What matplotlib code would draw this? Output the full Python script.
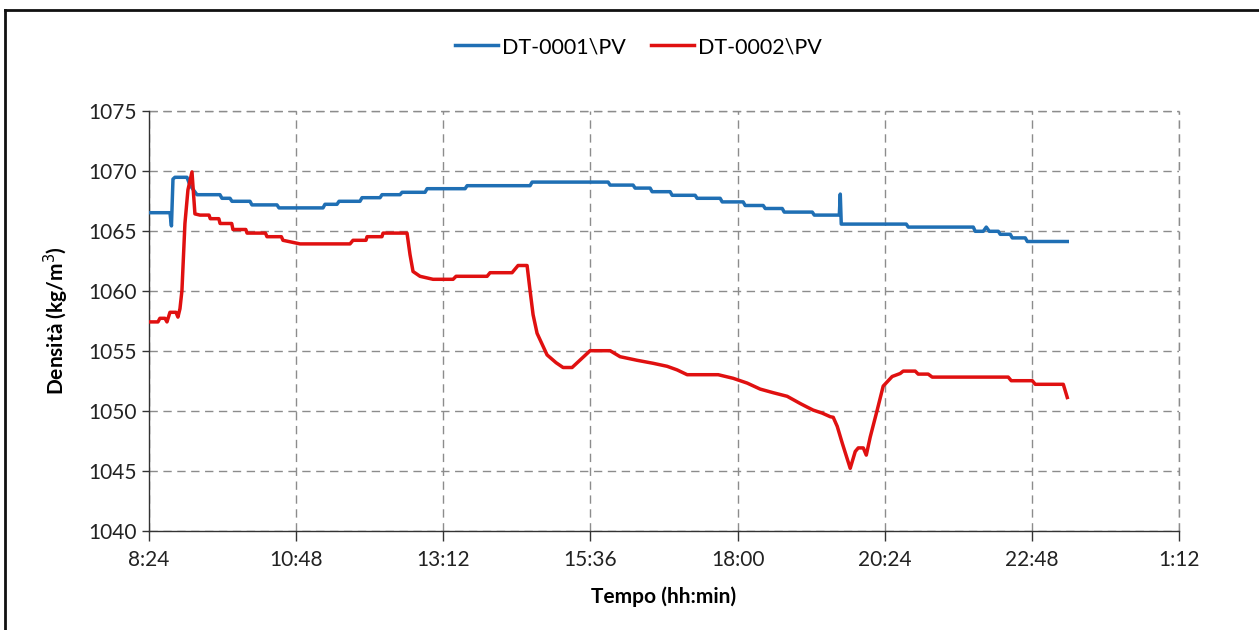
import matplotlib.pyplot as plt
from matplotlib.lines import Line2D
from matplotlib.ticker import FixedLocator, FuncFormatter

# time in decimal hours (values > 24 belong to the next day)
dt1_hours = [8.400, 8.743, 8.767, 8.792, 8.824, 9.020, 9.069, 9.183, 9.558, 9.591,
             9.722, 9.754, 10.048, 10.080, 10.488, 10.521, 11.239, 11.271, 11.467, 11.500,
             11.842, 11.875, 12.169, 12.201, 12.495, 12.528, 12.903, 12.936, 13.556, 13.589,
             14.616, 14.649, 15.889, 15.921, 16.296, 16.329, 16.574, 16.606, 16.900, 16.933,
             17.308, 17.340, 17.716, 17.749, 18.091, 18.124, 18.418, 18.451, 18.728, 18.761,
             19.218, 19.251, 19.659, 19.675, 19.691, 20.751, 20.784, 21.844, 21.876, 22.007,
             22.056, 22.105, 22.252, 22.284, 22.447, 22.480, 22.692, 22.725, 23.377]
dt1_density = [1066.5, 1066.5, 1065.4, 1069.3, 1069.45, 1069.45, 1068.8, 1068.0, 1068.0, 1067.7,
               1067.7, 1067.45, 1067.45, 1067.15, 1067.15, 1066.9, 1066.9, 1067.2, 1067.2, 1067.45,
               1067.45, 1067.75, 1067.75, 1068.0, 1068.0, 1068.2, 1068.2, 1068.5, 1068.5, 1068.75,
               1068.75, 1069.05, 1069.05, 1068.8, 1068.8, 1068.55, 1068.55, 1068.25, 1068.25, 1067.95,
               1067.95, 1067.7, 1067.7, 1067.4, 1067.4, 1067.1, 1067.1, 1066.85, 1066.85, 1066.55,
               1066.55, 1066.3, 1066.3, 1068.05, 1065.55, 1065.55, 1065.3, 1065.3, 1064.95, 1064.95,
               1065.3, 1064.95, 1064.95, 1064.7, 1064.7, 1064.4, 1064.4, 1064.1, 1064.1]

dt2_hours = [8.400, 8.547, 8.579, 8.661, 8.694, 8.743, 8.841, 8.873, 8.906, 8.938,
             8.987, 9.036, 9.102, 9.150, 9.232, 9.380, 9.400, 9.540, 9.560, 9.750,
             9.770, 9.980, 10.000, 10.300, 10.325, 10.560, 10.586, 10.864, 11.679, 11.728,
             11.940, 11.957, 12.200, 12.218, 12.609, 12.658, 12.707, 12.821,
             13.033, 13.360, 13.409, 13.915, 13.963, 14.322, 14.371, 14.420, 14.567, 14.616,
             14.665, 14.730, 14.893, 15.040, 15.154, 15.301, 15.595, 15.921, 16.084, 16.362,
             16.623, 16.851, 17.014, 17.178, 17.684, 17.928, 18.157, 18.369, 18.581, 18.809,
             19.021, 19.135, 19.233, 19.380, 19.511, 19.560, 19.625, 19.707, 19.837, 19.919,
             19.968, 20.050, 20.099, 20.163, 20.277, 20.375, 20.521, 20.652, 20.701, 20.897,
             20.946, 21.109, 21.174, 22.414, 22.463, 22.806, 22.855, 23.312, 23.377]
dt2_density = [1057.4, 1057.4, 1057.7, 1057.7, 1057.4, 1058.2, 1058.2, 1057.8, 1058.5, 1060.0,
               1065.6, 1068.4, 1069.9, 1066.4, 1066.3, 1066.3, 1066.0, 1066.0, 1065.6, 1065.6,
               1065.1, 1065.1, 1064.8, 1064.8, 1064.5, 1064.5, 1064.2, 1063.9, 1063.9, 1064.2,
               1064.2, 1064.5, 1064.5, 1064.8, 1064.8, 1063.0, 1061.6, 1061.2,
               1060.95, 1060.95, 1061.2, 1061.2, 1061.5, 1061.5, 1061.8, 1062.1, 1062.1, 1060.0,
               1058.0, 1056.45, 1054.65, 1054.0, 1053.6, 1053.6, 1055.0, 1055.0, 1054.5, 1054.2,
               1053.95, 1053.7, 1053.4, 1053.0, 1053.0, 1052.7, 1052.3, 1051.8, 1051.5, 1051.2,
               1050.6, 1050.3, 1050.05, 1049.8, 1049.5, 1049.45, 1048.7, 1047.3, 1045.2, 1046.6,
               1046.9, 1046.9, 1046.3, 1047.8, 1050.05, 1052.05, 1052.85, 1053.1, 1053.3, 1053.3,
               1053.05, 1053.05, 1052.8, 1052.8, 1052.5, 1052.5, 1052.2, 1052.2, 1051.1]

x_ticks = [8.4, 10.8, 13.2, 15.6, 18.0, 20.4, 22.8, 25.2]
y_ticks = [1040, 1045, 1050, 1055, 1060, 1065, 1070, 1075]

plt.rcParams['font.family'] = ['Lato', 'DejaVu Sans']


def hhmm(h, pos=None):
    m = int(round(h * 60)) % (24 * 60)
    return f"{m // 60}:{m % 60:02d}"


fig = plt.figure(figsize=(12.59, 6.30), dpi=100)
ax = fig.add_axes([0.1183, 0.1576, 0.8182, 0.6667])

ax.plot(dt1_hours, dt1_density, color='#1f6fb4', lw=2.5, label='DT-0001\\PV',
        solid_joinstyle='round', zorder=3)
ax.plot(dt2_hours, dt2_density, color='#e01010', lw=2.5, label='DT-0002\\PV',
        solid_joinstyle='round', zorder=4)

ax.set_xlim(8.4, 25.2)
ax.set_ylim(1040, 1075)
ax.xaxis.set_major_locator(FixedLocator(x_ticks))
ax.xaxis.set_major_formatter(FuncFormatter(hhmm))
ax.yaxis.set_major_locator(FixedLocator(y_ticks))

ax.grid(True, color='#8c8c8c', linestyle=(0, (6, 4)), linewidth=1.0)
for s in ['top', 'right']:
    ax.spines[s].set_visible(False)
for s in ['left', 'bottom']:
    ax.spines[s].set_color('#333333')
    ax.spines[s].set_linewidth(1.0)
# dashed closing lines on top and right like the gridlines
ax.axhline(1075, color='#8c8c8c', linestyle=(0, (6, 4)), lw=1.0, clip_on=False)
ax.axvline(25.2, color='#8c8c8c', linestyle=(0, (6, 4)), lw=1.0, clip_on=False)

ax.tick_params(axis='x', direction='out', length=7, width=1, colors='#333333',
               labelsize=15, labelcolor='#222222', pad=7)
ax.tick_params(axis='y', direction='out', length=5, width=1, colors='#333333',
               labelsize=15, labelcolor='#222222', pad=4)

ax.set_xlabel('Tempo (hh:min)', fontsize=15, fontweight='bold', labelpad=12)
ax.set_ylabel('Densità (kg/m$^3$)', fontsize=15, fontweight='bold', labelpad=12)

fig.legend(loc='upper center', bbox_to_anchor=(0.507, 0.972), ncol=2, frameon=False,
           fontsize=15.5, handlelength=2.0, handletextpad=0.15, columnspacing=1.2)

# chart area border (top and left only visible in the original crop)
fig.add_artist(Line2D([5 / 1259, 1.0], [1 - 10 / 630, 1 - 10 / 630],
                      transform=fig.transFigure, color='#111111', lw=2))
fig.add_artist(Line2D([5 / 1259, 5 / 1259], [0, 1 - 10 / 630],
                      transform=fig.transFigure, color='#111111', lw=2))

fig.savefig('out.png', dpi=100, facecolor='white')
